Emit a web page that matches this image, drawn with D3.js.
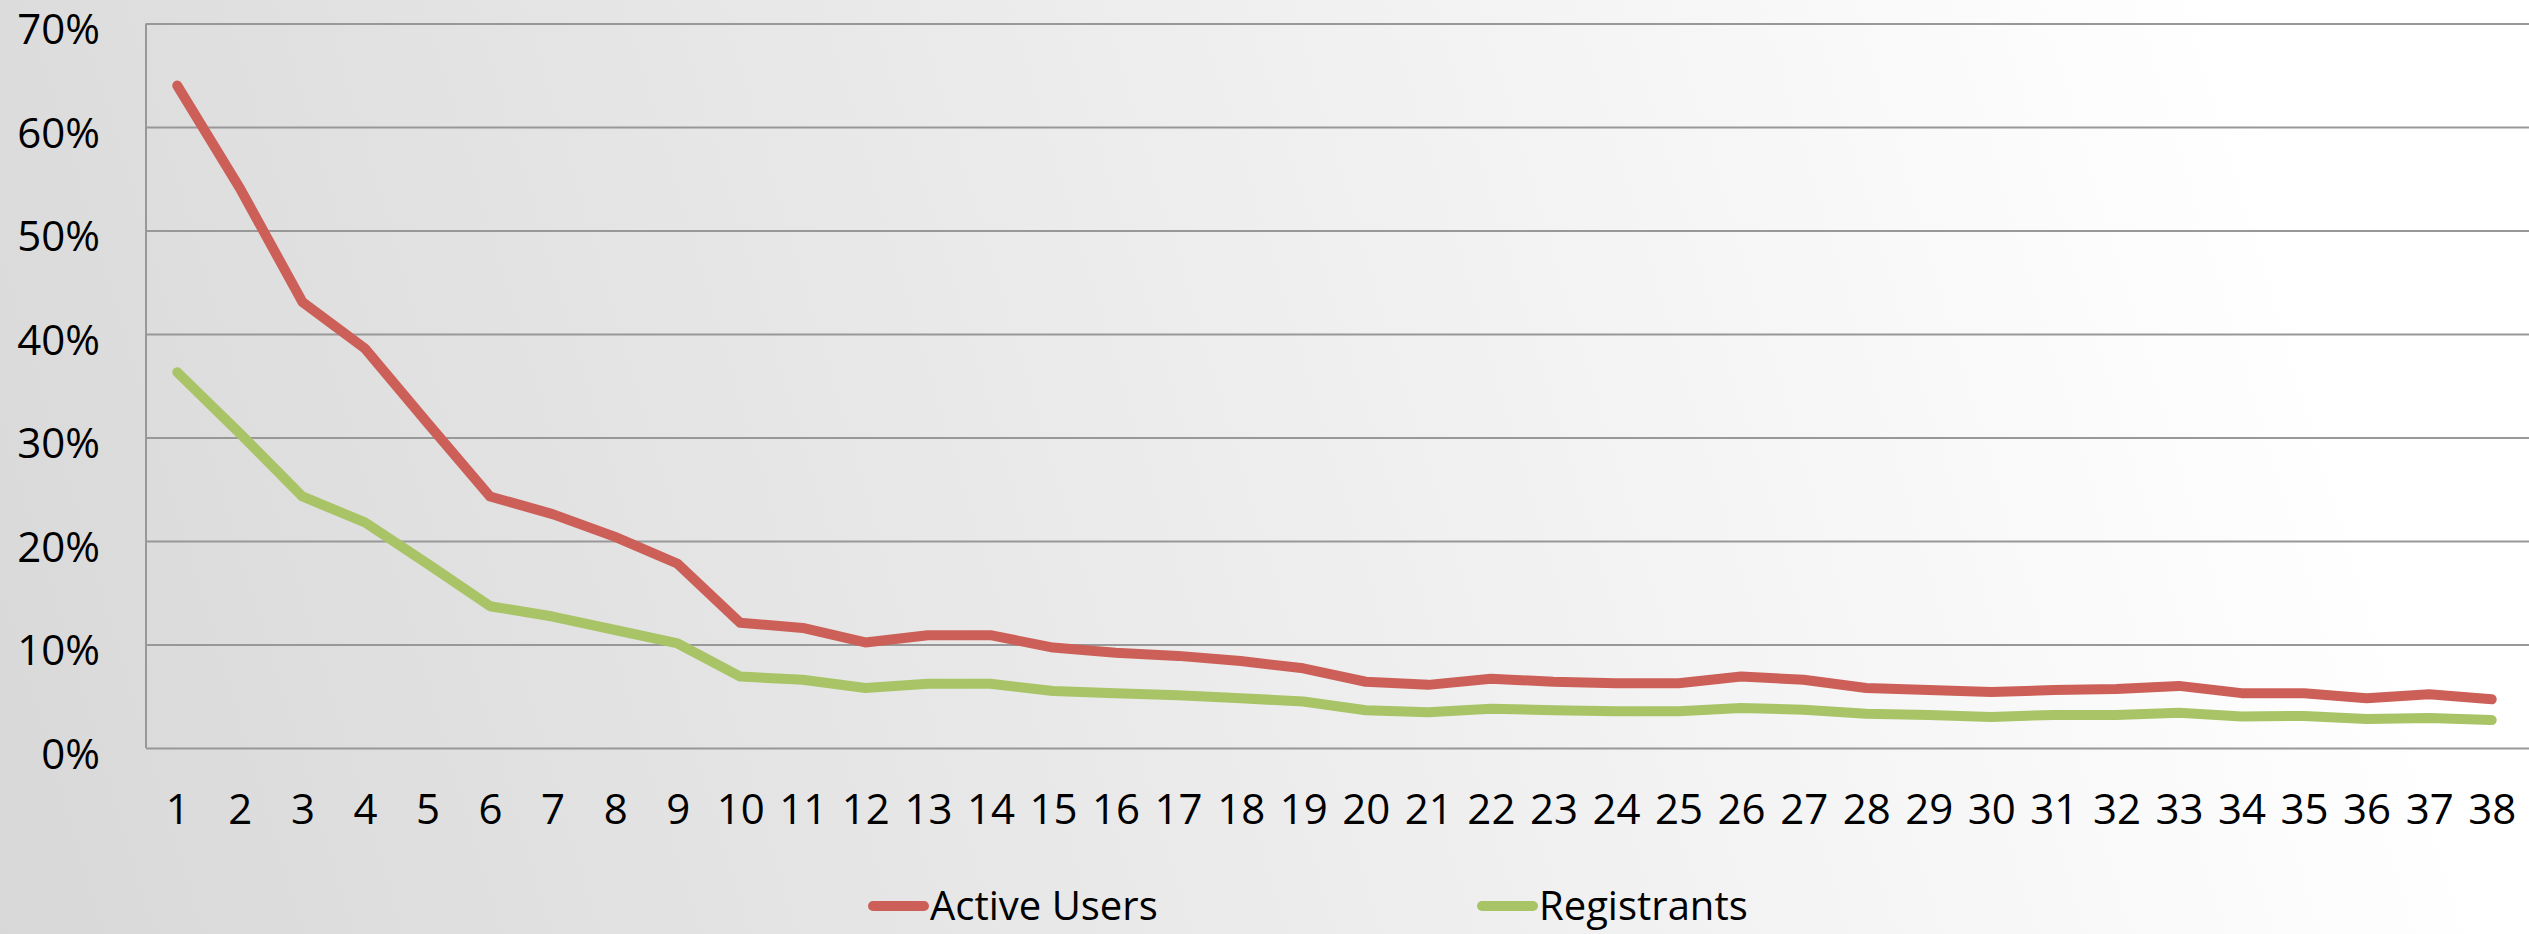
<!DOCTYPE html>
<html>
<head>
<meta charset="utf-8">
<script src="https://cdn.jsdelivr.net/npm/d3@7"></script>
<style>
  html, body { margin: 0; padding: 0; overflow: hidden; }
  text { font-family: "Open Sans", "Liberation Sans", sans-serif; fill: #000; }
</style>
</head>
<body>
<script>
'use strict';

// categories (day number)
let days = ["1", "2", "3", "4", "5", "6", "7", "8", "9", "10",
  "11", "12", "13", "14", "15", "16", "17", "18", "19", "20",
  "21", "22", "23", "24", "25", "26", "27", "28", "29", "30",
  "31", "32", "33", "34", "35", "36", "37", "38"];

// series values, in percent
let activeUsers = [64.0, 54.1, 43.1, 38.6, 31.4, 24.3, 22.6, 20.4, 17.8, 12.1,
  11.6, 10.2, 10.9, 10.9, 9.7, 9.2, 8.9, 8.4, 7.7, 6.4,
  6.1, 6.7, 6.4, 6.25, 6.25, 6.9, 6.6, 5.8, 5.6, 5.4,
  5.6, 5.7, 6.0, 5.3, 5.3, 4.8, 5.2, 4.7];
let registrants = [36.3, 30.4, 24.3, 21.8, 17.8, 13.7, 12.7, 11.4, 10.1, 6.9,
  6.6, 5.8, 6.2, 6.2, 5.5, 5.3, 5.1, 4.8, 4.5, 3.65,
  3.46, 3.8, 3.65, 3.56, 3.56, 3.87, 3.7, 3.3, 3.2, 3.0,
  3.2, 3.2, 3.4, 3.05, 3.1, 2.8, 2.9, 2.7];

// y tick values
let yTicks = [0, 0.1, 0.2, 0.3, 0.4, 0.5, 0.6, 0.7];

let seriesNames = ["Active Users", "Registrants"];
let seriesColors = ["#cc6058", "#a8c466"];

let W = 2529, H = 934;
let margin = { top: 23.5, left: 146, bottom: 186, right: 6 };
let width = W - margin.left - margin.right,
  height = H - margin.top - margin.bottom;

let svg = d3.select("body").append("svg")
  .attr("width", W)
  .attr("height", H);

drawBackground();
let scales = drawAxes();
drawLines(scales);
drawLegend();

// grey to white background
function drawBackground() {
  let defs = svg.append("defs");
  let grad = defs.append("linearGradient")
    .attr("id", "bg")
    .attr("gradientUnits", "userSpaceOnUse")
    .attr("x1", 0).attr("y1", H)
    .attr("x2", 2300).attr("y2", 250);
  grad.append("stop").attr("offset", "0%").attr("stop-color", "#d8d8d8");
  grad.append("stop").attr("offset", "45%").attr("stop-color", "#e9e9e9");
  grad.append("stop").attr("offset", "100%").attr("stop-color", "#ffffff");

  svg.append("rect")
    .attr("width", W)
    .attr("height", H)
    .attr("fill", "url(#bg)");
}

// axes and gridlines
function drawAxes() {
  let xScale = d3.scalePoint()
    .domain(days)
    .range([margin.left, W - margin.right])
    .padding(0.5);

  let yScale = d3.scaleLinear()
    .domain([0, 0.7])
    .range([margin.top + height, margin.top]);

  // gridlines + y labels
  let yAxis = d3.axisLeft(yScale)
    .tickValues(yTicks)
    .tickFormat(d3.format(".0%"))
    .tickSizeInner(-(W - margin.left))
    .tickSizeOuter(0)
    .tickPadding(46);

  let gy = svg.append("g")
    .attr("transform", "translate(" + margin.left + ", 0)")
    .call(yAxis);
  gy.select(".domain").remove();
  gy.selectAll(".tick line")
    .attr("stroke", "#989898")
    .attr("stroke-width", 2);
  gy.selectAll(".tick text")
    .attr("dy", "20px")
    .style("font-size", "42px")
    .style("font-family", "'Open Sans', sans-serif")
    .attr("fill", "#000");

  // vertical axis line
  svg.append("line")
    .attr("x1", margin.left).attr("x2", margin.left)
    .attr("y1", yScale(0.7)).attr("y2", yScale(0))
    .attr("stroke", "#989898")
    .attr("stroke-width", 2);

  // x labels
  let xAxis = d3.axisBottom(xScale)
    .tickSize(0)
    .tickPadding(46);
  let gx = svg.append("g")
    .attr("transform", "translate(0, " + yScale(0) + ")")
    .call(xAxis);
  gx.select(".domain").remove();
  gx.selectAll(".tick text")
    .style("font-size", "42px")
    .style("font-family", "'Open Sans', sans-serif")
    .attr("fill", "#000");

  return { xScale: xScale, yScale: yScale };
}

// draws both series
function drawLines(scales) {
  let x = scales.xScale;
  let y = scales.yScale;
  let all = [activeUsers, registrants];

  let line = d3.line()
    .x((d, i) => x(days[i]))
    .y(d => y(d / 100));

  all.forEach((values, k) => {
    svg.append("path")
      .datum(values)
      .attr("d", line)
      .attr("fill", "none")
      .attr("stroke", seriesColors[k])
      .attr("stroke-width", 10)
      .attr("stroke-linecap", "round")
      .attr("stroke-linejoin", "round");
  });
}

// legend at the bottom
function drawLegend() {
  let starts = [868, 1477];
  seriesNames.forEach((name, k) => {
    let g = svg.append("g")
      .attr("transform", "translate(" + starts[k] + ", 906)");
    g.append("line")
      .attr("x1", 5).attr("x2", 56)
      .attr("y1", 0).attr("y2", 0)
      .attr("stroke", seriesColors[k])
      .attr("stroke-width", 10)
      .attr("stroke-linecap", "round");
    g.append("text")
      .attr("x", 62)
      .attr("y", 14)
      .style("font-size", "40px")
      .text(name);
  });
}
</script>
</body>
</html>
